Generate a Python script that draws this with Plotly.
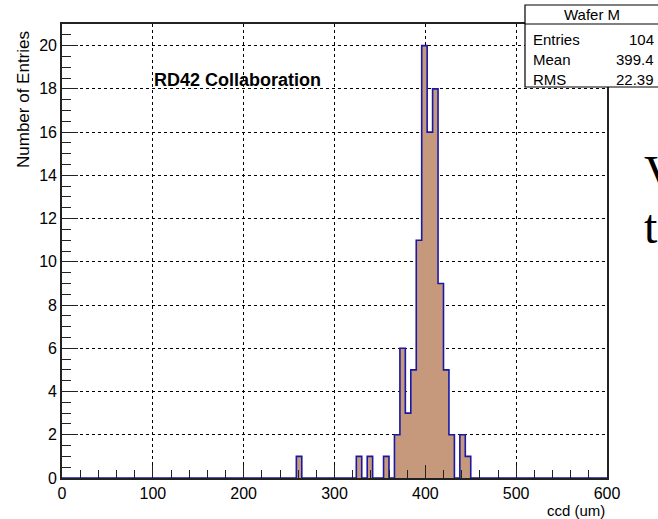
import plotly.graph_objects as go

# Histogram of wafer thickness: 100 bins of 6 um between 0 and 600 um
x_min, x_max, n_bins = 0, 600, 100
bin_low = [258, 324, 336, 354, 366, 372, 378, 384, 390, 396, 402, 408, 414, 420, 426, 432, 438, 444]
entries = [1, 1, 1, 1, 2, 6, 3, 5, 11, 20, 16, 18, 9, 5, 2, 0, 2, 1]

stats_title = "Wafer M"
stats_names = ["Entries", "Mean", "RMS"]
stats_values = ["104", "399.4", "22.39"]

x_title = "ccd (um)"
y_title = "Number of Entries"
label_text = "RD42 Collaboration"

width_bin = (x_max - x_min) / n_bins
counts = [0] * n_bins
for lo, n in zip(bin_low, entries):
    counts[int(round((lo - x_min) / width_bin))] = n
edges = [x_min + i * width_bin for i in range(n_bins + 1)]
centers = [e + width_bin / 2 for e in edges[:-1]]

FILL = "rgb(198,153,125)"
EDGE = "rgb(25,25,165)"
SANS = "Liberation Sans, Arial, sans-serif"
SERIF = "Liberation Serif, Times New Roman, serif"

fig = go.Figure()
fig.add_trace(go.Bar(x=centers, y=counts, width=width_bin,
                     marker=dict(color=FILL, line=dict(width=0)),
                     hoverinfo="skip"))
fig.add_trace(go.Scatter(x=edges, y=counts + [0], mode="lines",
                         line=dict(color=EDGE, width=1.6, shape="hv"),
                         hoverinfo="skip"))

# plot area in pixels
W, H = 658, 519
PL, PR, PT, PB = 62, 51, 24, 41
PW, PH = W - PL - PR, H - PT - PB


def px(x):
    return (x - PL) / PW


def py(y):
    return (PT + PH - y) / PH


axis_common = dict(
    showline=True, linecolor="#222", linewidth=1.6, mirror=True,
    ticks="inside", tickcolor="#222", tickwidth=1.4,
    showgrid=True, gridcolor="black", griddash="dot", gridwidth=1,
    zeroline=False,
    tickfont=dict(family=SANS, size=16, color="black"),
)

fig.update_xaxes(range=[x_min, x_max], tick0=0, dtick=100, ticklen=13,
                 minor=dict(dtick=20, ticklen=8, ticks="inside", tickcolor="#222",
                            tickwidth=1.2, showgrid=False),
                 **axis_common)
fig.update_yaxes(range=[0, 21], tick0=0, dtick=2, ticklen=16,
                 minor=dict(dtick=0.5, ticklen=9, ticks="inside", tickcolor="#222",
                            tickwidth=1.2, showgrid=False),
                 **axis_common)

annotations = [
    dict(text=y_title, textangle=-90, x=px(24), y=py(100), xref="paper", yref="paper",
         xanchor="center", yanchor="middle", showarrow=False,
         font=dict(family=SANS, size=17, color="black")),
    dict(text=x_title, x=1.0, y=py(510), xref="paper", yref="paper",
         xanchor="right", yanchor="middle", showarrow=False,
         font=dict(family=SANS, size=15, color="black")),
    dict(text="<b>" + label_text + "</b>", x=px(152), y=py(80), xref="paper", yref="paper",
         xanchor="left", yanchor="middle", showarrow=False,
         font=dict(family=SANS, size=18, color="black")),
    dict(text=stats_title, x=px(592), y=py(14), xref="paper", yref="paper",
         xanchor="center", yanchor="middle", showarrow=False,
         font=dict(family=SANS, size=15, color="black")),
    # text of the slide behind the plot
    dict(text="V", x=px(642), y=py(172), xref="paper", yref="paper",
         xanchor="left", yanchor="middle", showarrow=False,
         font=dict(family=SERIF, size=48, color="black")),
    dict(text="to", x=px(642), y=py(226), xref="paper", yref="paper",
         xanchor="left", yanchor="middle", showarrow=False,
         font=dict(family=SERIF, size=48, color="black")),
]
row_y = [39, 59.5, 79.5]
for name, val, yy in zip(stats_names, stats_values, row_y):
    annotations.append(dict(text=name, x=px(531), y=py(yy), xref="paper", yref="paper",
                            xanchor="left", yanchor="middle", showarrow=False,
                            font=dict(family=SANS, size=15, color="black")))
    annotations.append(dict(text=val, x=px(656), y=py(yy), xref="paper", yref="paper",
                            xanchor="right", yanchor="middle", showarrow=False,
                            font=dict(family=SANS, size=15, color="black")))

shapes = [
    dict(type="rect", xref="paper", yref="paper", x0=px(525), x1=px(662),
         y0=py(87), y1=py(5), fillcolor="white", line=dict(color="black", width=1.2),
         layer="above"),
    dict(type="line", xref="paper", yref="paper", x0=px(525), x1=px(662),
         y0=py(24), y1=py(24), line=dict(color="black", width=1.2), layer="above"),
]

fig.update_layout(
    width=W, height=H,
    margin=dict(l=PL, r=PR, t=PT, b=PB),
    paper_bgcolor="white", plot_bgcolor="white",
    showlegend=False, bargap=0,
    annotations=annotations, shapes=shapes,
)

fig.write_html("out.html")
